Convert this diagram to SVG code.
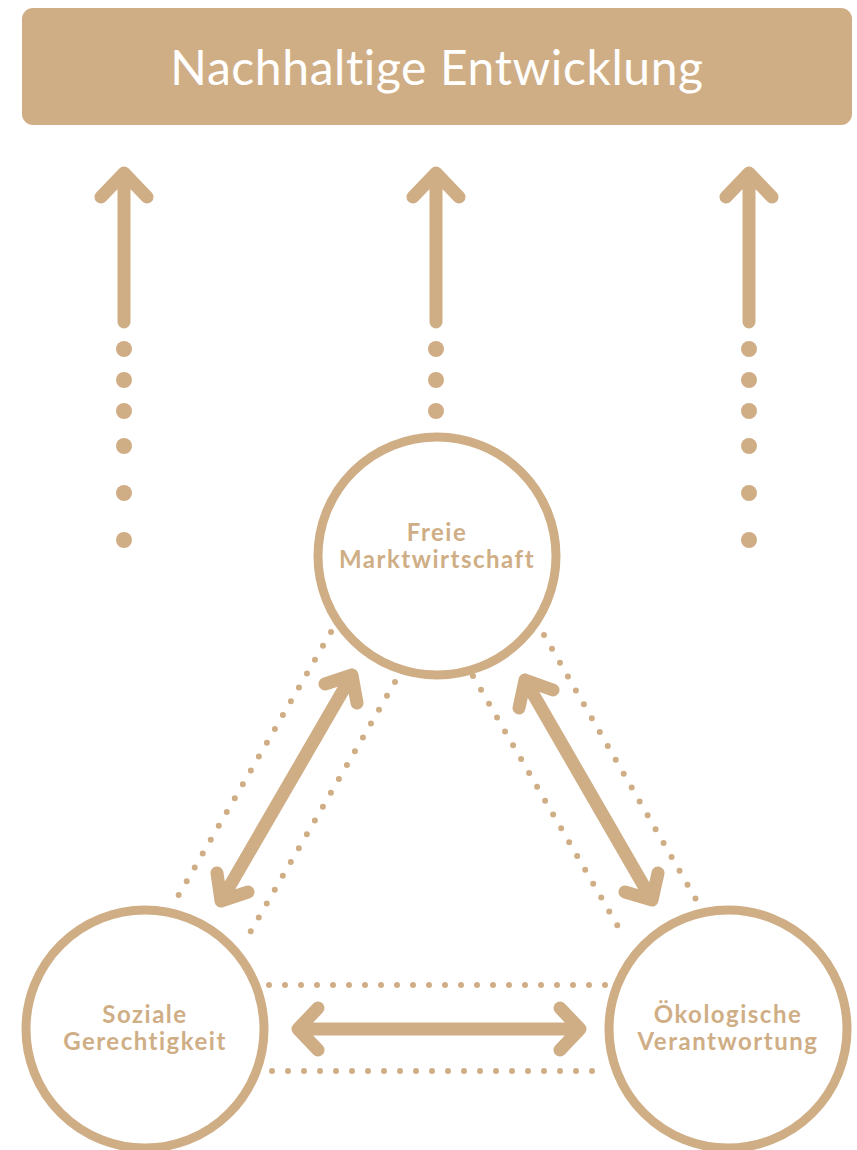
<svg xmlns="http://www.w3.org/2000/svg" width="857" height="1150" viewBox="0 0 857 1150">
<style>
.c{fill:none;stroke:#CFAE86;stroke-width:9}
.a{fill:none;stroke:#CFAE86;stroke-width:13;stroke-linecap:round;stroke-linejoin:round}
.d{fill:none;stroke:#CFAE86;stroke-width:6;stroke-linecap:round;stroke-dasharray:0 16}
.dot{fill:#CFAE86}
.t{font-family:Lato,"Open Sans",sans-serif;font-weight:700;font-size:24px;letter-spacing:1.5px;fill:#CFAE86;text-anchor:middle}
</style>
<rect width="857" height="1150" fill="#fff"/>
<g id="title">
<rect x="22" y="8" width="830" height="117" rx="11" fill="#CFAE86"/>
<text x="437" y="85" font-family="Lato,'Open Sans',sans-serif" font-size="48" letter-spacing="0.6" fill="#fff" text-anchor="middle">Nachhaltige Entwicklung</text>
</g>
<g id="connectors">
<path class="a" d="M124 322V173M101 197L124 173L147 197"/>
<path class="a" d="M436 322V173M413 197L436 173L459 197"/>
<path class="a" d="M749 322V173M726 197L749 173L772 197"/>
<g class="dot">
<circle cx="124" cy="349" r="8"/><circle cx="124" cy="380" r="8"/><circle cx="124" cy="411" r="8"/><circle cx="124" cy="446" r="8"/><circle cx="124" cy="493" r="8"/><circle cx="124" cy="540" r="8"/>
<circle cx="436" cy="349" r="8"/><circle cx="436" cy="380" r="8"/><circle cx="436" cy="411" r="8"/>
<circle cx="749" cy="349" r="8"/><circle cx="749" cy="380" r="8"/><circle cx="749" cy="411" r="8"/><circle cx="749" cy="446" r="8"/><circle cx="749" cy="493" r="8"/><circle cx="749" cy="540" r="8"/>
</g>
<path class="a" d="M352 675L221 901M325 684L352 675L357 703M217 873L221 901L248 892"/>
<path class="a" d="M525 680L652 900M553 690L525 680L519 708M658 873L652 900L625 892"/>
<path class="a" d="M298 1029H580M318 1008L298 1029L318 1050M560 1008L580 1029L560 1050"/>
<path class="d" d="M331 632L177 898"/>
<path class="d" d="M395 682L248 936"/>
<path class="d" d="M544 635L698 903"/>
<path class="d" d="M473 676L620 930"/>
<path class="d" d="M269 985H612"/>
<path class="d" d="M272 1071H602"/>
</g>
<g id="freie">
<circle class="c" cx="437" cy="556" r="119" fill="#fff"/>
<text class="t" x="437" y="541">Freie</text>
<text class="t" x="437" y="568">Marktwirtschaft</text>
</g>
<g id="soziale">
<circle class="c" cx="145" cy="1029" r="119"/>
<text class="t" x="145" y="1023">Soziale</text>
<text class="t" x="145" y="1050">Gerechtigkeit</text>
</g>
<g id="oekologie">
<circle class="c" cx="728" cy="1029" r="119"/>
<text class="t" x="728" y="1023">Ökologische</text>
<text class="t" x="728" y="1050">Verantwortung</text>
</g>
</svg>
